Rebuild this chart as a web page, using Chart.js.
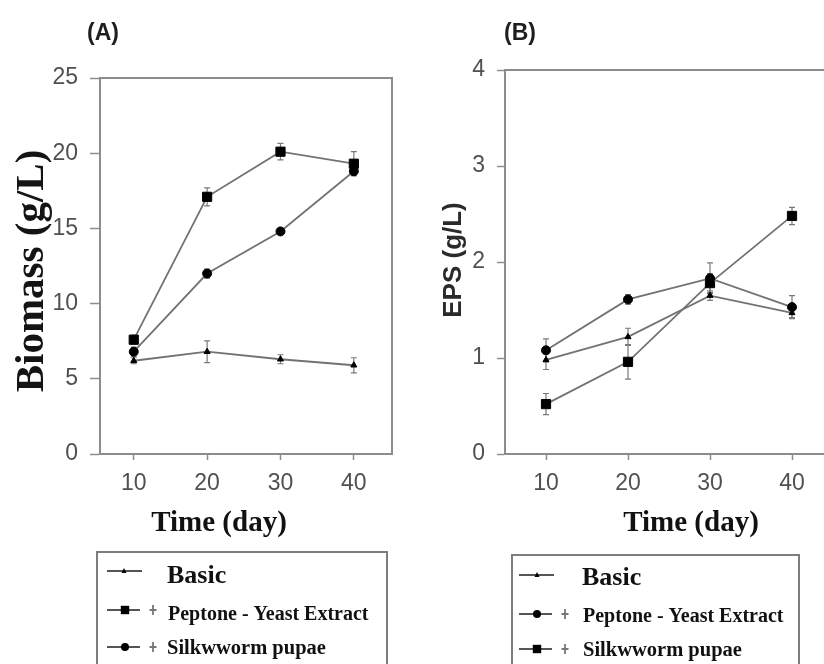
<!DOCTYPE html>
<html><head><meta charset="utf-8">
<script src="https://cdn.jsdelivr.net/npm/chart.js@4"></script>
<style>
html,body{margin:0;padding:0;background:#fff;width:824px;height:664px;overflow:hidden;position:relative}
canvas{position:absolute;top:0}
</style></head><body>
<canvas id="cA" width="412" height="664" style="left:0"></canvas>
<canvas id="cB" width="438" height="664" style="left:412px"></canvas>
<script>
// ---------- data ----------
const days = [10, 20, 30, 40];
const dayTicks = [10, 20, 30, 40];
const seriesNames = ['Basic', 'Peptone - Yeast Extract', 'Silkwworm pupae'];

const biomassBasic    = [6.2, 6.8, 6.3, 5.9];
const biomassBasicErr = [0.2, 0.72, 0.3, 0.5];
const biomassPYE      = [7.6, 17.1, 20.1, 19.3];
const biomassPYEErr   = [0.3, 0.6, 0.55, 0.8];
const biomassSilk     = [6.8, 12.0, 14.8, 18.8];
const biomassSilkErr  = [0.3, 0.3, 0.2, 0.3];

const epsBasic    = [0.98, 1.22, 1.65, 1.47];
const epsBasicErr = [0.1, 0.09, 0.05, 0.05];
const epsPYE      = [1.08, 1.61, 1.83, 1.53];
const epsPYEErr   = [0.12, 0.05, 0.16, 0.12];
const epsSilk     = [0.52, 0.96, 1.78, 2.48];
const epsSilkErr  = [0.11, 0.18, 0.1, 0.09];

const biomassTicks = [0, 5, 10, 15, 20, 25];
const epsTicks = [0, 1, 2, 3, 4];

// ---------- styling ----------
const LINE = '#727272';
const AXIS = '#8c8c8c';
const TICKC = '#505050';
const SANS = 'Liberation Sans, Arial, sans-serif';
const SERIF = 'Liberation Serif, Times New Roman, serif';

function ds(label, values, style, radius) {
  return {
    label, data: days.map((d, i) => ({ x: d, y: values[i] })),
    borderColor: LINE, borderWidth: 1.8, tension: 0, fill: false,
    pointStyle: style, pointRadius: radius, pointHoverRadius: radius,
    pointBackgroundColor: '#000', pointBorderColor: '#000', pointBorderWidth: 1
  };
}

function marker(ctx, style, x, y, r) {
  ctx.save();
  ctx.fillStyle = '#000';
  ctx.beginPath();
  if (style === 'rect') {
    ctx.rect(x - r, y - r, 2 * r, 2 * r);
  } else if (style === 'triangle') {
    ctx.moveTo(x, y - r * 1.2);
    ctx.lineTo(x + r, y + r * 0.8);
    ctx.lineTo(x - r, y + r * 0.8);
    ctx.closePath();
  } else {
    ctx.arc(x, y, r, 0, Math.PI * 2);
  }
  ctx.fill();
  ctx.restore();
}

function plus(ctx, x, y) {
  ctx.save();
  ctx.strokeStyle = '#777';
  ctx.lineWidth = 1.8;
  ctx.beginPath();
  ctx.moveTo(x, y - 5); ctx.lineTo(x, y + 5);
  ctx.moveTo(x - 3.5, y); ctx.lineTo(x + 3.5, y);
  ctx.stroke();
  ctx.restore();
}

function makeChart(id, p) {
  const W = p.canvasW, a = p.area;
  const errPlugin = {
    id: 'errbars',
    beforeDatasetsDraw(chart) {
      const ctx = chart.ctx, xs = chart.scales.x, ys = chart.scales.y;
      ctx.save();
      // box frame (top and right sides)
      ctx.strokeStyle = AXIS; ctx.lineWidth = 2;
      ctx.beginPath();
      ctx.moveTo(chart.chartArea.left, chart.chartArea.top);
      ctx.lineTo(chart.chartArea.right, chart.chartArea.top);
      ctx.lineTo(chart.chartArea.right, chart.chartArea.bottom);
      ctx.stroke();
      ctx.strokeStyle = '#7a7a7a'; ctx.lineWidth = 1.2;
      p.values.forEach((vals, si) => {
        const errs = p.errs[si];
        days.forEach((d, i) => {
          const px = xs.getPixelForValue(d);
          const y1 = ys.getPixelForValue(vals[i] + errs[i]);
          const y2 = ys.getPixelForValue(vals[i] - errs[i]);
          ctx.beginPath();
          ctx.moveTo(px, y1); ctx.lineTo(px, y2);
          ctx.moveTo(px - 3, y1); ctx.lineTo(px + 3, y1);
          ctx.moveTo(px - 3, y2); ctx.lineTo(px + 3, y2);
          ctx.stroke();
        });
      });
      ctx.restore();
    },
    afterDraw(chart) {
      const ctx = chart.ctx, o = p.offset;
      ctx.save();
      ctx.fillStyle = '#1e1e1e';
      // panel label
      ctx.font = 'bold 23px ' + SANS;
      ctx.textAlign = 'left'; ctx.textBaseline = 'alphabetic';
      ctx.fillText(p.panel, p.panelX - o, 40);
      // y title
      ctx.save();
      ctx.translate(p.yTitle.x - o, p.yTitle.y);
      ctx.rotate(-Math.PI / 2);
      ctx.font = p.yTitle.font;
      ctx.fillStyle = p.yTitle.color;
      ctx.textAlign = 'center';
      ctx.fillText(p.yTitle.text, 0, 0);
      ctx.restore();
      // x title
      ctx.font = 'bold 29px ' + SERIF;
      ctx.fillStyle = '#111';
      ctx.textAlign = 'center';
      ctx.fillText('Time (day)', p.xTitleX - o, 531);
      // legend box
      const L = p.legend;
      ctx.strokeStyle = '#7d7d7d'; ctx.lineWidth = 2;
      ctx.strokeRect(L.l - o, L.t, L.r - L.l, 140);
      ctx.textAlign = 'left';
      L.items.forEach((it, k) => {
        ctx.strokeStyle = '#555'; ctx.lineWidth = 1.8;
        ctx.beginPath();
        ctx.moveTo(it.x0 - o, it.ly); ctx.lineTo(it.x1 - o, it.ly);
        ctx.stroke();
        marker(ctx, it.m, it.mx - o, it.ly, it.mr);
        if (it.px) plus(ctx, it.px - o, it.ly);
        ctx.fillStyle = '#111';
        ctx.font = it.font;
        ctx.fillText(seriesNames[k], it.tx - o, it.base);
      });
      ctx.restore();
    }
  };
  const tickFont = { family: SANS, size: 23 };
  return new Chart(document.getElementById(id), {
    type: 'line',
    data: { datasets: p.datasets },
    plugins: [errPlugin],
    options: {
      responsive: false, animation: false, events: [],
      layout: { padding: { top: a.t, right: W - a.r, bottom: 664 - a.b - 40, left: 0 } },
      plugins: { legend: { display: false }, tooltip: { enabled: false }, title: { display: false } },
      scales: {
        x: {
          type: 'linear', min: p.xMin, max: p.xMax,
          afterBuildTicks: s => { s.ticks = dayTicks.map(v => ({ value: v })); },
          afterFit: s => { s.height = 40; },
          grid: { display: true, drawOnChartArea: false, drawTicks: true, tickLength: 6, tickColor: AXIS, tickWidth: 1.5 },
          border: { display: true, color: AXIS, width: 2 },
          ticks: { color: TICKC, font: tickFont, padding: 10, maxRotation: 0, autoSkip: false }
        },
        y: {
          type: 'linear', min: p.yMin, max: p.yMax,
          afterBuildTicks: s => { s.ticks = p.yTicks.map(v => ({ value: v })); },
          afterFit: s => { s.width = a.l; },
          grid: { display: true, drawOnChartArea: false, drawTicks: true, tickLength: p.yTickLen, tickColor: AXIS, tickWidth: 1.5 },
          border: { display: true, color: AXIS, width: 2 },
          ticks: { color: TICKC, font: tickFont, padding: 12, autoSkip: false }
        }
      }
    }
  });
}

// Panel A
makeChart('cA', {
  canvasW: 412, offset: 0,
  area: { l: 100, r: 392, t: 78, b: 454 },
  xMin: 5.4, xMax: 45.2, yMin: 0, yMax: 25, yTicks: biomassTicks, yTickLen: 10,
  datasets: [
    ds(seriesNames[0], biomassBasic, 'triangle', 3.5),
    ds(seriesNames[1], biomassPYE, 'rect', 6.5),
    ds(seriesNames[2], biomassSilk, 'circle', 4.5)
  ],
  values: [biomassBasic, biomassPYE, biomassSilk],
  errs: [biomassBasicErr, biomassPYEErr, biomassSilkErr],
  panel: '(A)', panelX: 87,
  yTitle: { text: 'Biomass (g/L)', x: 43, y: 271, font: 'bold 41px ' + SERIF, color: '#141414' },
  xTitleX: 219,
  legend: {
    l: 97, r: 387, t: 552,
    items: [
      { ly: 571, x0: 107, x1: 142, mx: 124, m: 'triangle', mr: 2.5, px: 0, tx: 167, base: 582.5, font: 'bold 26px ' + SERIF },
      { ly: 610, x0: 107, x1: 140, mx: 125, m: 'rect', mr: 4.2, px: 153, tx: 168, base: 620, font: 'bold 20px ' + SERIF },
      { ly: 647, x0: 107, x1: 140, mx: 125, m: 'circle', mr: 4, px: 153, tx: 167, base: 654, font: 'bold 20.5px ' + SERIF }
    ]
  }
});

// Panel B
makeChart('cB', {
  canvasW: 438, offset: 412,
  area: { l: 93, r: 421, t: 70, b: 454 },
  xMin: 5, xMax: 45, yMin: 0, yMax: 4, yTicks: epsTicks, yTickLen: 8,
  datasets: [
    ds(seriesNames[0], epsBasic, 'triangle', 3.5),
    ds(seriesNames[1], epsPYE, 'circle', 4.5),
    ds(seriesNames[2], epsSilk, 'rect', 6.5)
  ],
  values: [epsBasic, epsPYE, epsSilk],
  errs: [epsBasicErr, epsPYEErr, epsSilkErr],
  panel: '(B)', panelX: 504,
  yTitle: { text: 'EPS (g/L)', x: 461, y: 260, font: 'bold 26px ' + SANS, color: '#2a2a2a' },
  xTitleX: 691,
  legend: {
    l: 512, r: 799, t: 555,
    items: [
      { ly: 575, x0: 519, x1: 554, mx: 537, m: 'triangle', mr: 2.5, px: 0, tx: 582, base: 585, font: 'bold 26px ' + SERIF },
      { ly: 614, x0: 519, x1: 552, mx: 537, m: 'circle', mr: 4, px: 565, tx: 583, base: 621.5, font: 'bold 20px ' + SERIF },
      { ly: 649, x0: 519, x1: 552, mx: 537, m: 'rect', mr: 4.2, px: 565, tx: 583, base: 656, font: 'bold 20.5px ' + SERIF }
    ]
  }
});
</script>
</body></html>
